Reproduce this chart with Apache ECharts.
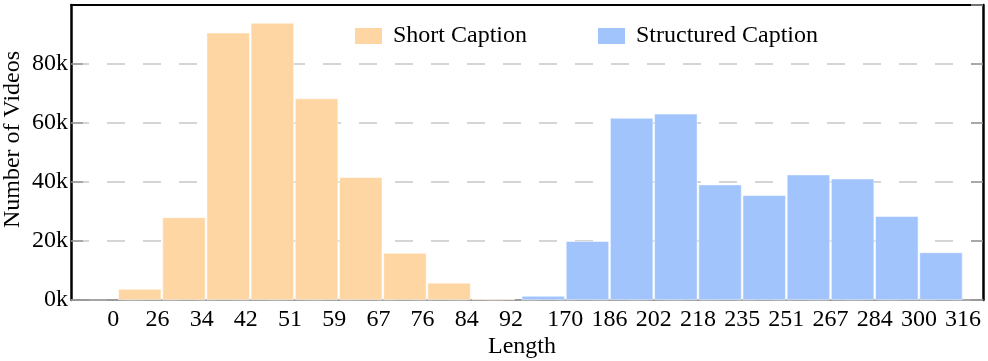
<!DOCTYPE html>
<html>
<head>
<meta charset="utf-8">
<script src="https://cdn.jsdelivr.net/npm/echarts@6/dist/echarts.min.js"></script>
<style>html,body{margin:0;padding:0;background:#fff;}#c{width:988px;height:361px;}</style>
</head>
<body>
<div id="c"></div>
<script>
// Tick labels (bin edges)
var shortEdges = ['0','26','34','42','51','59','67','76','84','92'];
var structEdges = ['170','186','202','218','235','251','267','284','300','316'];
// Counts per bin
var shortCounts = [3700, 28000, 90600, 93900, 68300, 41600, 15900, 5800, 400];
var structCounts = [1350, 19900, 61700, 63100, 39100, 35500, 42500, 41100, 28400, 16100];
var seriesNames = ['Short Caption', 'Structured Caption'];

var FONT = 'Liberation Serif';
var ORANGE = '#fed6a4';
var BLUE = '#a1c4fd';

// slot layout on the x (index) axis
var shortData = shortCounts.map(function (v, i) { return [i + 0.47, v]; });
var structData = structCounts.map(function (v, j) { return [9.6 + j, v]; });
var tickPos = [], tickText = [];
shortEdges.forEach(function (t, i) { tickPos.push(i - 0.13); tickText.push(t); });
structEdges.forEach(function (t, k) { tickPos.push(10.1 + k); tickText.push(t); });

var chart = echarts.init(document.getElementById('c'));
chart.setOption({
  animation: false,
  textStyle: { fontFamily: FONT },
  grid: { left: 71, right: 5, top: 5, bottom: 61, containLabel: false, outerBoundsMode: 'none' },
  legend: {
    data: seriesNames,
    left: 353, top: 24, padding: 0,
    itemWidth: 29, itemHeight: 18, itemGap: 69,
    icon: 'rect',
    textStyle: { fontFamily: FONT, fontSize: 24, color: '#000', padding: [0, 0, 0, 5] }
  },
  xAxis: [{
    type: 'value', min: -1.086, max: 19.55,
    name: 'Length', nameLocation: 'middle', nameGap: 35, nameMoveOverlap: false,
    nameTextStyle: { fontFamily: FONT, fontSize: 24, color: '#000', padding: [0, 10, 0, 0] },
    axisLine: { show: true, onZero: false, lineStyle: { color: '#888', width: 1.5 } },
    axisTick: { show: false },
    splitLine: { show: false },
    axisLabel: {
      customValues: tickPos,
      fontFamily: FONT, fontSize: 24, color: '#000', margin: 8,
      formatter: function (v) {
        var best = 0, d = 1e9;
        for (var i = 0; i < tickPos.length; i++) { var e = Math.abs(tickPos[i] - v); if (e < d) { d = e; best = i; } }
        return tickText[best];
      }
    }
  }, {
    type: 'value', min: -1.086, max: 19.55, position: 'top',
    axisLine: { show: true, onZero: false, lineStyle: { color: '#000', width: 2 } },
    axisTick: { show: false }, axisLabel: { show: false }, splitLine: { show: false }
  }],
  yAxis: [{
    type: 'value', min: 0, max: 100000, interval: 20000,
    name: 'Number of Videos', nameLocation: 'middle', nameGap: 46, nameMoveOverlap: false,
    nameTextStyle: { fontFamily: FONT, fontSize: 24, color: '#000', padding: [0, 0, 0, 26] },
    axisLine: { show: true, onZero: false, lineStyle: { color: '#000', width: 2.5 } },
    axisTick: { show: true, inside: true, length: 12, lineStyle: { color: '#999', width: 1.5 } },
    axisLabel: {
      fontFamily: FONT, fontSize: 24, color: '#000', margin: 3, showMaxLabel: false,
      formatter: function (v) { return (v / 1000) + 'k'; }
    },
    splitLine: { show: true, lineStyle: { color: '#c8c8c8', width: 1.5, type: [18, 18] } }
  }, {
    type: 'value', min: 0, max: 100000, interval: 20000, position: 'right',
    axisLine: { show: true, onZero: false, lineStyle: { color: '#000', width: 2.5 } },
    axisTick: { show: true, inside: true, length: 12, lineStyle: { color: '#999', width: 1.5 } },
    axisLabel: { show: false }, splitLine: { show: false }
  }],
  series: [{
    name: seriesNames[0], type: 'bar', data: shortData, barWidth: 43,
    itemStyle: { color: ORANGE, borderColor: '#fff', borderWidth: 0.5 }
  }, {
    name: seriesNames[1], type: 'bar', data: structData, barWidth: 43, barGap: '-100%',
    itemStyle: { color: BLUE, borderColor: '#fff', borderWidth: 0.5 }
  }]
});
</script>
</body>
</html>
